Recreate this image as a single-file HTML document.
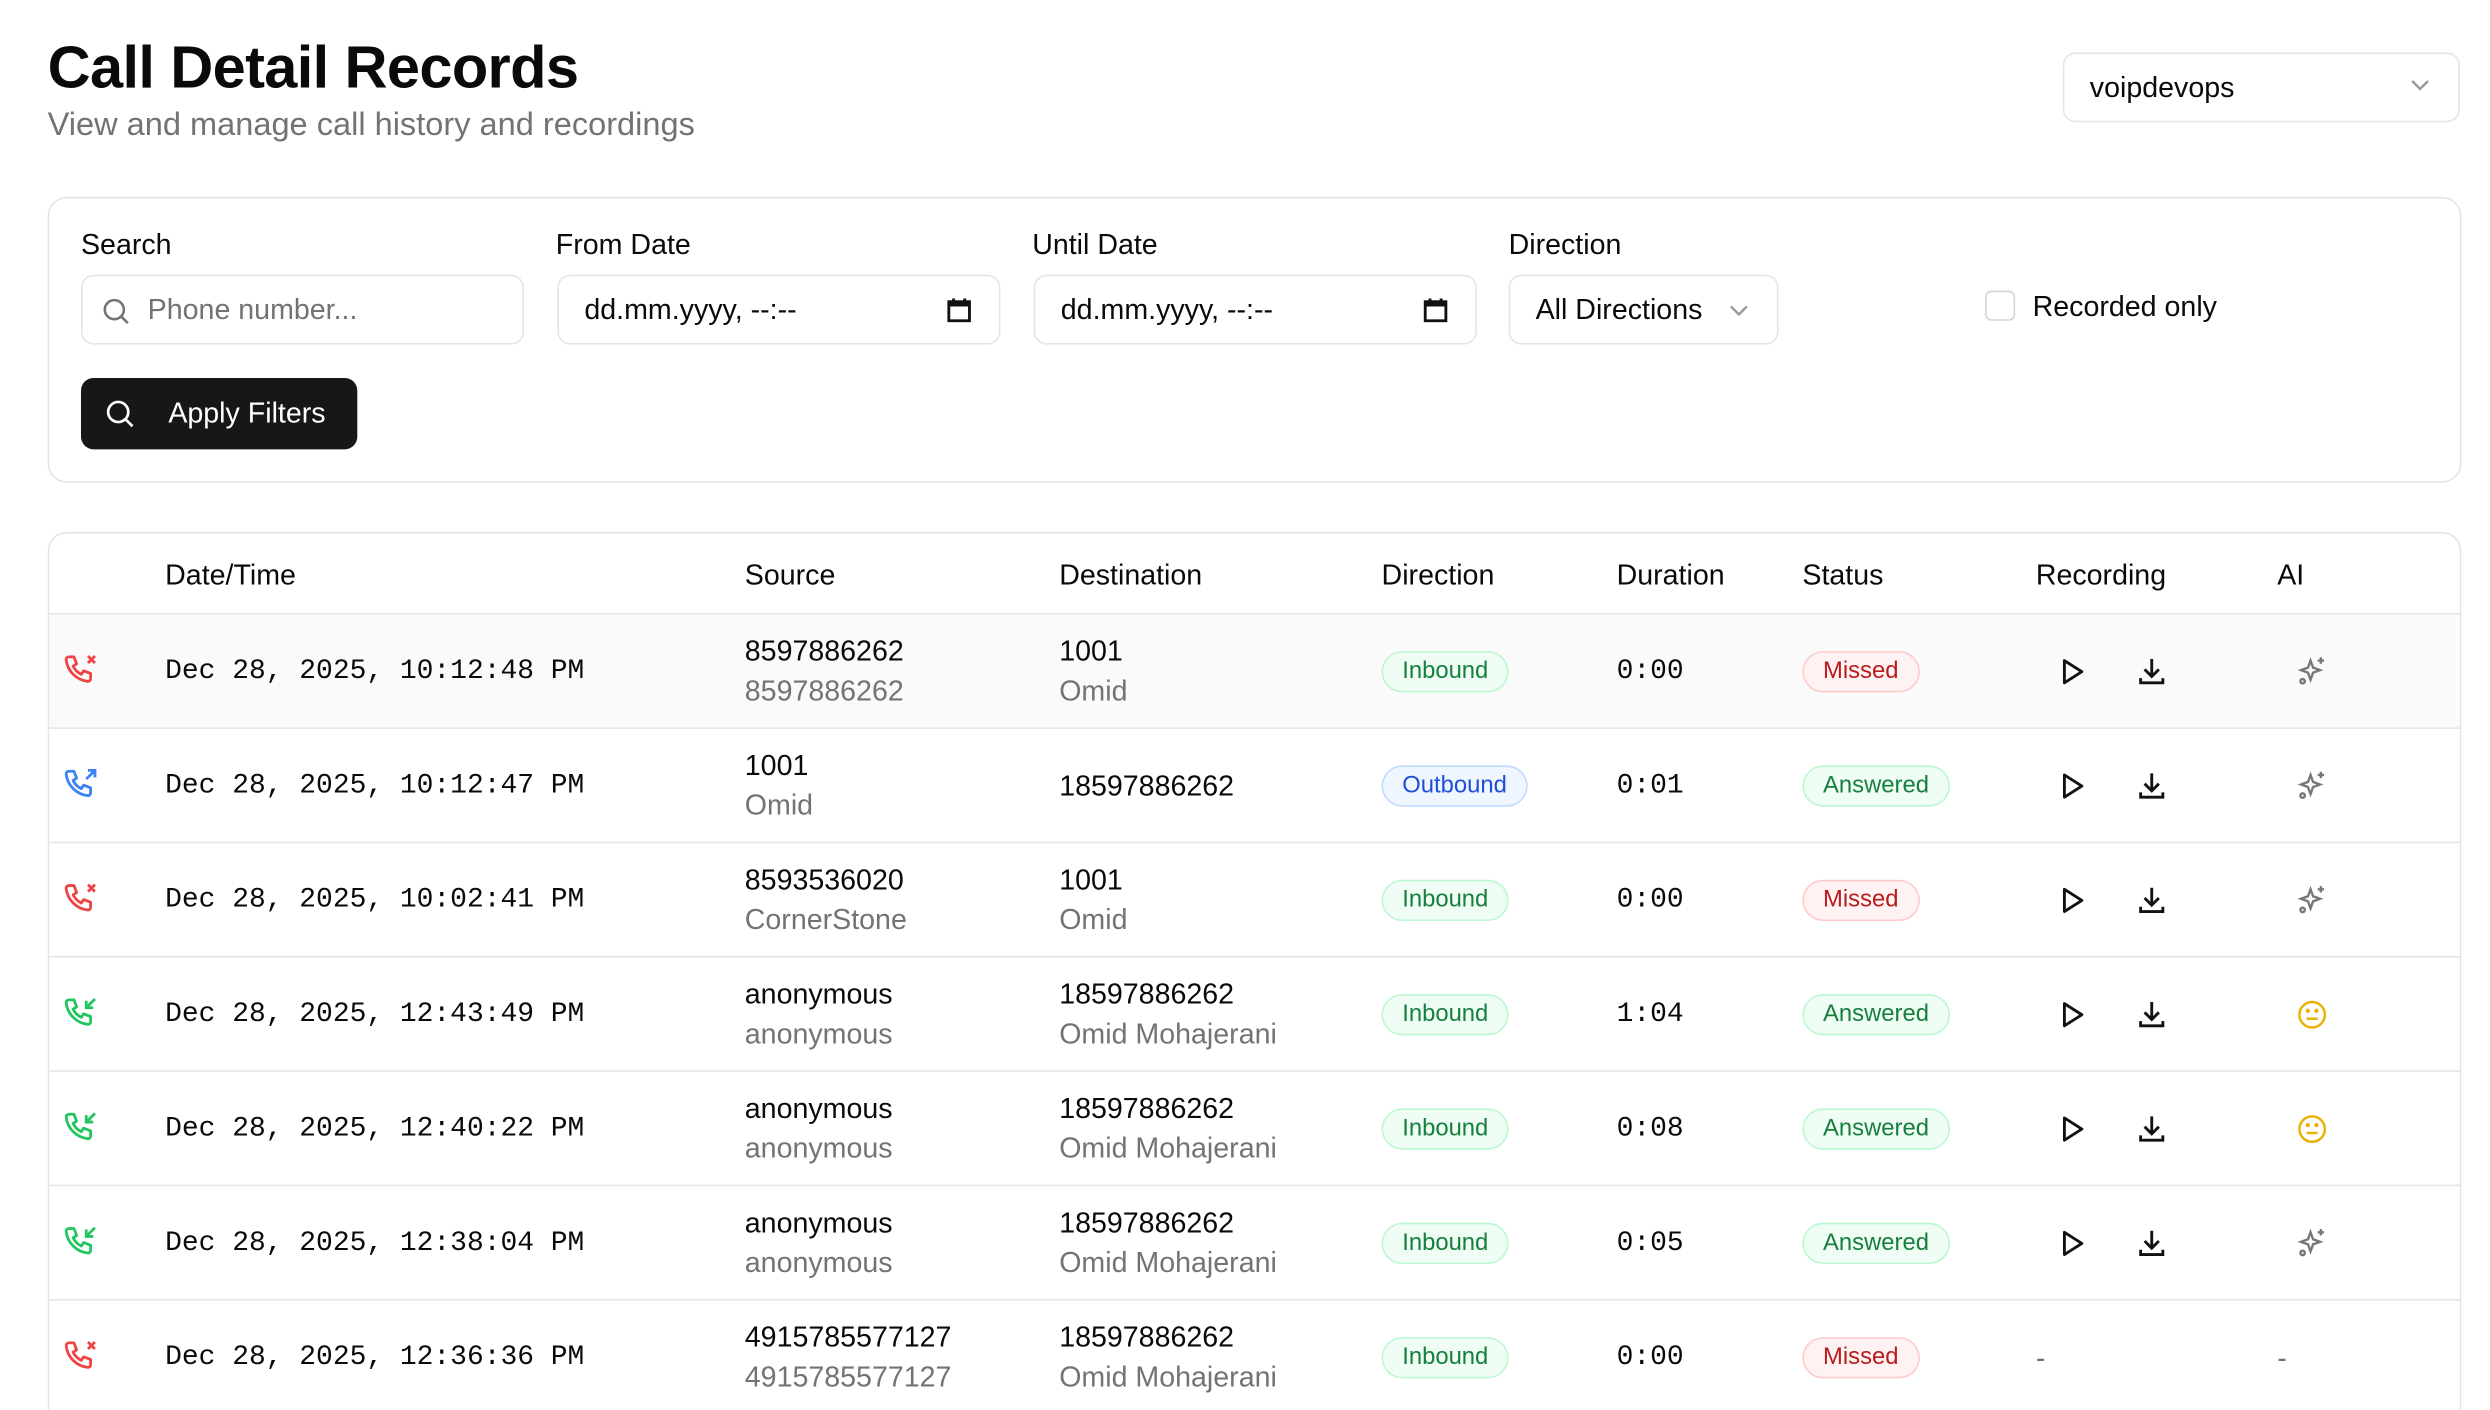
<!DOCTYPE html>
<html><head><meta charset="utf-8"><style>
*{box-sizing:border-box;margin:0;padding:0}
html,body{width:2490px;height:1410px;overflow:hidden;background:#fff}
#w{position:absolute;left:0;top:0;width:1568px;height:888px;overflow:hidden;transform-origin:0 0;transform:scale(1.588,1.588);font-family:"Liberation Sans",sans-serif;color:#0a0a0a}
.a{position:absolute}
.t{font-size:37.5px;font-weight:bold;left:30px;top:21px;letter-spacing:-0.4px}
.sub{font-size:20.5px;color:#737373;left:30px;top:67px}
.box{border:1px solid #e5e5e5;border-radius:8px;background:#fff}
.lbl{font-size:18px;font-weight:500;top:144px}
.inp{top:173px;height:44px;font-size:18px;line-height:42px;padding-left:16px}
.mono{font-family:"Liberation Mono",monospace;font-size:17.6px!important}
.row{position:absolute;left:31px;width:1518px;height:72px;border-top:1px solid #e5e5e5}
.row div{position:absolute}
.l1{font-size:18px;top:13px}
.l2{font-size:18px;top:38px;color:#737373}
.c{font-size:18px;top:26px}
.bd{top:23px;height:26px;border-radius:13px;font-size:15px;line-height:24px;padding:0 12px;border:1px solid}
.in{background:#f0fdf4;border-color:#bbf7d0;color:#15803d}
.ou{background:#eff6ff;border-color:#bfdbfe;color:#1d4ed8}
.mi{background:#fef2f2;border-color:#fecaca;color:#b91c1c}
.an{background:#f0fdf4;border-color:#bbf7d0;color:#15803d}
.hd{font-size:18px;font-weight:500;top:352px}
</style></head><body><div id="w">
<div class="a t">Call Detail Records</div>
<div class="a sub">View and manage call history and recordings</div>
<div class="a box" style="left:1299px;top:33px;width:250px;height:44px;font-size:18px;line-height:42px;padding-left:16px">voipdevops<svg class="a" style="right:18px;top:16px" width="12" height="8" viewBox="0 0 12 8"><path d="M1 1l5 5 5-5" fill="none" stroke="#999" stroke-width="1.5"/></svg></div>

<div class="a box" style="left:30px;top:124px;width:1520px;height:180px;border-radius:12px"></div>
<div class="a lbl" style="left:51px">Search</div>
<div class="a lbl" style="left:350px">From Date</div>
<div class="a lbl" style="left:650px">Until Date</div>
<div class="a lbl" style="left:950px">Direction</div>
<div class="a box inp" style="left:51px;width:279px;padding-left:41px;color:#737373">Phone number...<svg class="a" style="left:12px;top:13px" width="18" height="18" viewBox="0 0 18 18"><circle cx="8" cy="8" r="6" fill="none" stroke="#737373" stroke-width="1.6"/><path d="M12.5 12.5L16.5 16.5" stroke="#737373" stroke-width="1.6"/></svg></div>
<div class="a box inp" style="left:351px;width:279px">dd.mm.yyyy, --:--<svg class="a" style="left:244px;top:13px" width="16" height="16" viewBox="0 0 16 16"><rect x="1.5" y="3" width="13" height="12" fill="none" stroke="#111" stroke-width="1.8"/><rect x="1.5" y="3" width="13" height="3" fill="#111"/><path d="M4.5 1v3M11.5 1v3" stroke="#111" stroke-width="1.8"/></svg></div>
<div class="a box inp" style="left:651px;width:279px">dd.mm.yyyy, --:--<svg class="a" style="left:244px;top:13px" width="16" height="16" viewBox="0 0 16 16"><rect x="1.5" y="3" width="13" height="12" fill="none" stroke="#111" stroke-width="1.8"/><rect x="1.5" y="3" width="13" height="3" fill="#111"/><path d="M4.5 1v3M11.5 1v3" stroke="#111" stroke-width="1.8"/></svg></div>
<div class="a box inp" style="left:950px;width:170px">All Directions<svg class="a" style="left:138px;top:18px" width="12" height="8" viewBox="0 0 12 8"><path d="M1 1l5 5 5-5" fill="none" stroke="#999" stroke-width="1.5"/></svg></div>
<div class="a" style="left:1250px;top:183px;width:19px;height:19px;border:1px solid #d4d4d4;border-radius:4px"></div>
<div class="a" style="left:1280px;top:183px;font-size:18px;font-weight:500">Recorded only</div>
<div class="a" style="left:51px;top:238px;width:174px;height:45px;background:#171717;border-radius:8px;color:#fff;font-size:18px;font-weight:500;line-height:45px;padding-left:55px">Apply Filters<svg class="a" style="left:15px;top:13px" width="19" height="19" viewBox="0 0 18 18"><circle cx="8" cy="8" r="6" fill="none" stroke="#fff" stroke-width="1.6"/><path d="M12.5 12.5L16.5 16.5" stroke="#fff" stroke-width="1.6"/></svg></div>

<div class="a box" style="left:30px;top:335px;width:1520px;height:553px;border-radius:12px 12px 0 0;border-bottom:none;overflow:hidden">
<div class="a" style="left:0;top:51px;width:1520px;height:72px;background:#fafafa"></div>
</div>
<div class="a hd" style="left:104px">Date/Time</div>
<div class="a hd" style="left:469px">Source</div>
<div class="a hd" style="left:667px">Destination</div>
<div class="a hd" style="left:870px">Direction</div>
<div class="a hd" style="left:1018px">Duration</div>
<div class="a hd" style="left:1135px">Status</div>
<div class="a hd" style="left:1282px">Recording</div>
<div class="a hd" style="left:1434px">AI</div>

<svg width="0" height="0" style="position:absolute"><defs>
<path id="ph" d="M3 1.5h3l1.5 4-2 1.3a10 10 0 0 0 4.7 4.7l1.3-2 4 1.5v3a1.5 1.5 0 0 1-1.6 1.5A14 14 0 0 1 1.5 3.1 1.5 1.5 0 0 1 3 1.5z" fill="none" stroke-width="1.6" stroke-linejoin="round"/>
<g id="play"><path d="M5 3l11 7-11 7z" fill="none" stroke="#111" stroke-width="1.8" stroke-linejoin="round"/></g>
<g id="dl" fill="none" stroke="#111" stroke-width="1.8"><path d="M10 2v11M5.5 8.5L10 13l4.5-4.5M3 14v3h14v-3"/></g>
<g id="sp" fill="none" stroke="#777" stroke-width="1.5"><path d="M9 3l1.6 4.4L15 9l-4.4 1.6L9 15l-1.6-4.4L3 9l4.4-1.6z"/><path d="M15.5 1v4M13.5 3h4"/><circle cx="4" cy="16" r="1.4"/></g>
<g id="sm" fill="none" stroke="#eab308" stroke-width="1.6"><circle cx="10" cy="10" r="8"/><path d="M6.5 12.5h7"/><circle cx="7.3" cy="7.5" r=".6" fill="#eab308"/><circle cx="12.7" cy="7.5" r=".6" fill="#eab308"/></g>
</defs></svg>

<div id="rows"></div>
<script>
var R=[
["m","10:12:48","8597886262","8597886262","1001","Omid","in","0:00","mi",1,"sp"],
["o","10:12:47","1001","Omid","18597886262","","ou","0:01","an",1,"sp"],
["m","10:02:41","8593536020","CornerStone","1001","Omid","in","0:00","mi",1,"sp"],
["i","12:43:49","anonymous","anonymous","18597886262","Omid Mohajerani","in","1:04","an",1,"sm"],
["i","12:40:22","anonymous","anonymous","18597886262","Omid Mohajerani","in","0:08","an",1,"sm"],
["i","12:38:04","anonymous","anonymous","18597886262","Omid Mohajerani","in","0:05","an",1,"sp"],
["m","12:36:36","4915785577127","4915785577127","18597886262","Omid Mohajerani","in","0:00","mi",0,""]];
var h="";
R.forEach(function(r,k){
var y=386+k*72;
var col=r[0]=="m"?"#ef4444":r[0]=="o"?"#3b82f6":"#22c55e";
var ex=r[0]=="m"?'<path d="M14 1l4 4M18 1l-4 4" stroke="'+col+'" stroke-width="1.6"/>':r[0]=="o"?'<path d="M13 6l5-5M14 1h4v4" fill="none" stroke="'+col+'" stroke-width="1.6"/>':'<path d="M18 1l-5 5M13 2v4h4" fill="none" stroke="'+col+'" stroke-width="1.6"/>';
h+='<div class="row" style="top:'+y+'px;height:'+(k==6?502-y+386:72)+'px">';
h+='<div style="left:9px;top:25px"><svg width="22" height="22" viewBox="0 0 20 20"><use href="#ph" stroke="'+col+'"/>'+ex+'</svg></div>';
h+='<div class="c mono" style="left:73px">Dec 28, 2025, '+r[1]+' PM</div>';
function two(x,a,b){return b?'<div class="l1" style="left:'+x+'px">'+a+'</div><div class="l2" style="left:'+x+'px">'+b+'</div>':'<div class="c" style="left:'+x+'px">'+a+'</div>';}
h+=two(438,r[2],r[3])+two(636,r[4],r[5]);
h+='<div class="bd '+r[6]+'" style="left:839px">'+(r[6]=="ou"?"Outbound":"Inbound")+'</div>';
h+='<div class="c mono" style="left:987px">'+r[7]+'</div>';
h+='<div class="bd '+r[8]+'" style="left:1104px">'+(r[8]=="mi"?"Missed":"Answered")+'</div>';
if(r[9]){h+='<div style="left:1264px;top:26px"><svg width="20" height="20"><use href="#play"/></svg></div><div style="left:1314px;top:26px"><svg width="20" height="20"><use href="#dl"/></svg></div><div style="left:1415px;top:26px"><svg width="20" height="20"><use href="#'+r[10]+'"/></svg></div>';}
else{h+='<div class="c" style="left:1251px;color:#737373">-</div><div class="c" style="left:1403px;color:#737373">-</div>';}
h+='</div>';});
document.getElementById("rows").innerHTML=h;
</script>
</div></body></html>
